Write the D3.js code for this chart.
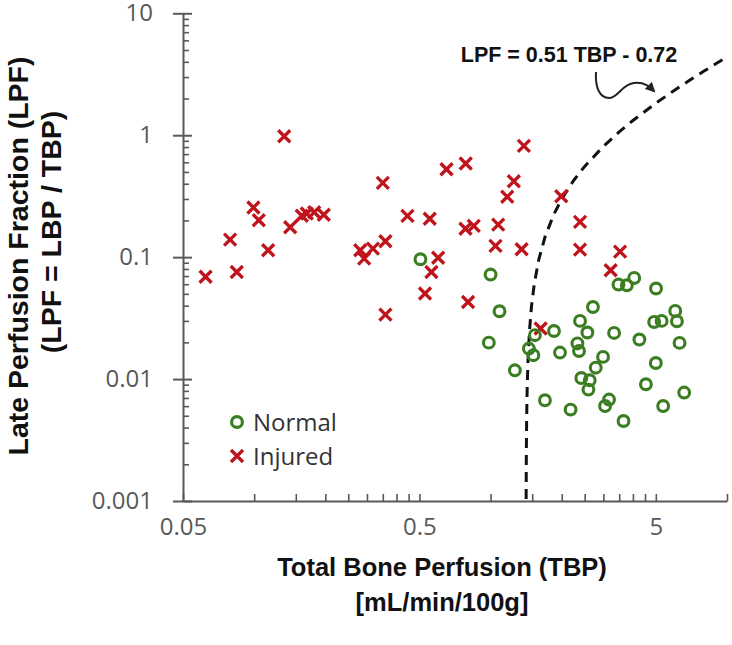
<!DOCTYPE html>
<html>
<head>
<meta charset="utf-8">
<script src="https://cdn.jsdelivr.net/npm/d3@7"></script>
<style>
  html, body { margin: 0; padding: 0; background: #fff; }
  svg { display: block; }
</style>
</head>
<body>
<svg id="chart" width="732" height="645"></svg>
<script>
// ---------------- data ----------------
const normalTBP = [0.505, 1.00, 1.091, 0.983, 1.267, 1.452, 1.517, 1.54, 1.854, 1.966,
  1.698, 2.18, 2.71, 2.39, 2.567, 2.33, 2.366, 2.99, 2.785, 2.42,
  2.626, 2.593, 3.33, 3.17, 3.05, 3.65, 3.475, 3.77, 4.05, 5.01,
  4.26, 4.92, 5.29, 6.04, 6.14, 6.3, 5.0, 4.54, 5.37, 6.59];
const normalLPF = [0.0961, 0.072, 0.036, 0.0199, 0.0118, 0.0178, 0.0157, 0.0229, 0.0248, 0.0165,
  0.0067, 0.00562, 0.039, 0.030, 0.0241, 0.0196, 0.017, 0.0152, 0.0124, 0.0102,
  0.00978, 0.0082, 0.0239, 0.00679, 0.00601, 0.00453, 0.0596, 0.0588, 0.0675, 0.0553,
  0.0211, 0.0294, 0.030, 0.0362, 0.0298, 0.0198, 0.01355, 0.00907, 0.00601, 0.00775];

const injuredTBP = [0.0623, 0.0791, 0.0844, 0.0993, 0.1046, 0.1146, 0.134, 0.142, 0.159, 0.167,
  0.1795, 0.197, 0.281, 0.292, 0.318, 0.359, 0.350, 0.359, 0.445, 0.553,
  0.600, 0.562, 0.528, 0.651, 0.785, 1.383, 1.254, 1.176, 0.783, 0.849,
  1.077, 1.049, 1.353, 0.803, 1.628, 1.99, 2.39, 2.39, 3.53, 3.22];
const injuredLPF = [0.0691, 0.1394, 0.0756, 0.2552, 0.2008, 0.1139, 0.981, 0.1759, 0.2186, 0.2279,
  0.2335, 0.2228, 0.1139, 0.0974, 0.1176, 0.135, 0.4062, 0.0338, 0.2178, 0.2065,
  0.0989, 0.0756, 0.0503, 0.526, 0.586, 0.817, 0.4195, 0.313, 0.171, 0.1803,
  0.1851, 0.1236, 0.1161, 0.0429, 0.026, 0.316, 0.1944, 0.1154, 0.1111, 0.0781];

// fitted relation shown on the chart: LPF = 0.51 TBP - 0.72
const fitSlope = 0.51;
const fitIntercept = -0.72;
const fitTBP = [1.4138, 1.414, 1.415, 1.417, 1.42, 1.425, 1.43, 1.44, 1.46, 1.49, 1.53, 1.6, 1.7,
  1.85, 2.0, 2.25, 2.5, 3, 3.5, 4, 5, 6, 7, 8, 9, 10];

const xTickLabels = [0.05, 0.5, 5];
const yTickLabels = [0.001, 0.01, 0.1, 1, 10];
const xMinorTicks = [0.05,0.1,0.15,0.2,0.25,0.3,0.35,0.4,0.45,0.5,1,1.5,2,2.5,3,3.5,4,4.5,5,10];
const yMinorTicks = [];
[0.001, 0.01, 0.1, 1].forEach(d => { for (let m = 2; m <= 9; m++) yMinorTicks.push(+(d*m).toPrecision(3)); });

const xTitle = "Total Bone Perfusion (TBP)";
const xTitle2 = "[mL/min/100g]";
const yTitle = "Late Perfusion Fraction (LPF)";
const yTitle2 = "(LPF = LBP / TBP)";
const annotation = "LPF = 0.51 TBP - 0.72";
const legendItems = ["Normal", "Injured"];

// ---------------- layout ----------------
const X0 = 183, X1 = 727, Y0 = 501, Y1 = 13.3;
const axisColor = "#595959";
const labelColor = "#595959";
const green = "#3b7d21";
const red = "#c0131b";

const svg = d3.select("#chart");
const x = d3.scaleLog().domain([0.05, 10]).range([X0, X1]);
const y = d3.scaleLog().domain([0.001, 10]).range([Y0, Y1]);

const tickFont = "'Open Sans', sans-serif";

// y axis (major ticks crossing + labels)
const yAxisL = svg.append("g").attr("transform", `translate(${X0},0)`)
  .call(d3.axisLeft(y).tickValues(yTickLabels).tickSizeInner(10).tickSizeOuter(0).tickPadding(20)
    .tickFormat(d => String(d)));
yAxisL.select(".domain").attr("stroke", axisColor).attr("stroke-width", 2);
yAxisL.selectAll(".tick line").attr("stroke", axisColor).attr("stroke-width", 2);
yAxisL.selectAll(".tick text").attr("fill", labelColor).style("font-family", tickFont).style("font-size", "24px");

const yAxisR = svg.append("g").attr("transform", `translate(${X0},0)`)
  .call(d3.axisRight(y).tickValues(yTickLabels).tickSize(9).tickFormat(""));
yAxisR.select(".domain").remove();
yAxisR.selectAll(".tick line").attr("stroke", axisColor).attr("stroke-width", 2);

const yMinor = svg.append("g").attr("transform", `translate(${X0},0)`)
  .call(d3.axisRight(y).tickValues(yMinorTicks).tickSize(6).tickFormat(""));
yMinor.select(".domain").remove();
yMinor.selectAll(".tick line").attr("stroke", axisColor).attr("stroke-width", 1.6);

// x axis
const xAxis = svg.append("g").attr("transform", `translate(0,${Y0})`)
  .call(d3.axisBottom(x).tickValues(xTickLabels).tickSizeInner(0).tickSizeOuter(0).tickPadding(17)
    .tickFormat(d => String(d)));
xAxis.select(".domain").attr("stroke", axisColor).attr("stroke-width", 2);
xAxis.selectAll(".tick line").remove();
xAxis.selectAll(".tick text").attr("fill", labelColor).style("font-family", tickFont).style("font-size", "24px");

const xMinor = svg.append("g").attr("transform", `translate(0,${Y0})`)
  .call(d3.axisTop(x).tickValues(xMinorTicks).tickSize(7).tickFormat(""));
xMinor.select(".domain").remove();
xMinor.selectAll(".tick line").attr("stroke", axisColor).attr("stroke-width", 1.6);

// dashed fit curve
const line = d3.line().x(d => x(d)).y(d => y(Math.max(fitSlope * d + fitIntercept, 0.001)));
svg.append("path").datum(fitTBP).attr("d", line)
  .attr("fill", "none").attr("stroke", "#111").attr("stroke-width", 3)
  .attr("stroke-dasharray", "10,7");

// injured crosses
const crossArm = 6;
const crossPath = `M${-crossArm},${-crossArm}L${crossArm},${crossArm}M${-crossArm},${crossArm}L${crossArm},${-crossArm}`;
svg.append("g").selectAll("path").data(injuredTBP.map((t, i) => [t, injuredLPF[i]])).join("path")
  .attr("transform", d => `translate(${x(d[0])},${y(d[1])})`)
  .attr("d", crossPath).attr("stroke", red).attr("stroke-width", 3.3).attr("fill", "none");

// normal circles
svg.append("g").selectAll("circle").data(normalTBP.map((t, i) => [t, normalLPF[i]])).join("circle")
  .attr("cx", d => x(d[0])).attr("cy", d => y(d[1])).attr("r", 5.4)
  .attr("fill", "none").attr("stroke", green).attr("stroke-width", 3.1);

// legend
const leg = svg.append("g");
leg.append("circle").attr("cx", 237).attr("cy", 422).attr("r", 5.4)
  .attr("fill", "none").attr("stroke", green).attr("stroke-width", 3.1);
leg.append("path").attr("transform", "translate(237,456)").attr("d", crossPath)
  .attr("stroke", red).attr("stroke-width", 3.3).attr("fill", "none");
leg.selectAll("text").data(legendItems).join("text")
  .attr("x", 253).attr("y", (d, i) => 431 + i * 34)
  .attr("fill", "#333").style("font-family", tickFont).style("font-size", "24px")
  .text(d => d);

// annotation + arrow
svg.append("defs").append("marker").attr("id", "ah")
  .attr("viewBox", "0 0 10 10").attr("refX", 8).attr("refY", 5)
  .attr("markerWidth", 5).attr("markerHeight", 5).attr("orient", "auto")
  .append("path").attr("d", "M0,0L10,5L0,10Z").attr("fill", "#222");
svg.append("text").attr("x", 569).attr("y", 62).attr("text-anchor", "middle")
  .attr("fill", "#111").style("font-family", "'Liberation Sans', Arial, sans-serif")
  .style("font-weight", "bold").style("font-size", "21.5px").text(annotation);
svg.append("path")
  .attr("d", "M596,72 C595,88 600,98 609,98 C618,98 622,84 634,83 C645,82 650,87 654,91")
  .attr("fill", "none").attr("stroke", "#222").attr("stroke-width", 2)
  .attr("marker-end", "url(#ah)");

// axis titles
const titleFont = "'Liberation Sans', Arial, sans-serif";
svg.append("text").attr("x", 442).attr("y", 576).attr("text-anchor", "middle")
  .style("font-family", titleFont).style("font-weight", "bold").style("font-size", "25.5px")
  .attr("fill", "#111").text(xTitle);
svg.append("text").attr("x", 442).attr("y", 611).attr("text-anchor", "middle")
  .style("font-family", titleFont).style("font-weight", "bold").style("font-size", "25.5px")
  .attr("fill", "#111").text(xTitle2);

svg.append("text").attr("transform", "translate(28,256) rotate(-90)").attr("text-anchor", "middle")
  .style("font-family", titleFont).style("font-weight", "bold").style("font-size", "28.5px")
  .attr("fill", "#111").text(yTitle);
svg.append("text").attr("transform", "translate(61,232) rotate(-90)").attr("text-anchor", "middle")
  .style("font-family", titleFont).style("font-weight", "bold").style("font-size", "28.5px")
  .attr("fill", "#111").text(yTitle2);
</script>
</body>
</html>
